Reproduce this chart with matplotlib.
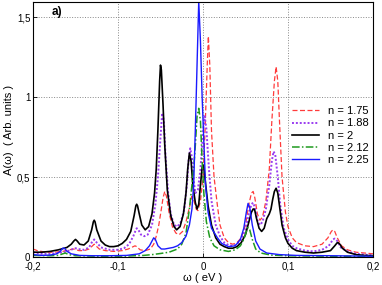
import matplotlib
matplotlib.use('Agg')
import matplotlib.pyplot as plt

# energies (eV) and spectral weight, one list pair per filling n
x175 = [-0.2, -0.195, -0.185, -0.175, -0.165, -0.158, -0.152, -0.146, -0.14, -0.134, -0.13, -0.128,
        -0.126, -0.122, -0.115, -0.105, -0.095, -0.088, -0.082, -0.08, -0.078, -0.074, -0.068, -0.062,
        -0.058, -0.055, -0.052, -0.049, -0.047, -0.045, -0.043, -0.04, -0.036, -0.032, -0.028, -0.024,
        -0.02, -0.016, -0.013, -0.011, -0.008, -0.006, -0.003, 0.0, 0.0024, 0.005, 0.0063, 0.008, 0.01,
        0.013, 0.017, 0.02, 0.025, 0.03, 0.035, 0.04, 0.045, 0.05, 0.054, 0.057, 0.059, 0.061, 0.064,
        0.067, 0.07, 0.074, 0.078, 0.081, 0.084, 0.086, 0.088, 0.09, 0.093, 0.097, 0.1, 0.105, 0.11,
        0.12, 0.13, 0.14, 0.147, 0.151, 0.153, 0.155, 0.158, 0.163, 0.17, 0.18, 0.2]
y175 = [0.05, 0.04, 0.03, 0.03, 0.035, 0.045, 0.05, 0.04, 0.04, 0.05, 0.07, 0.08,
        0.07, 0.05, 0.04, 0.035, 0.04, 0.05, 0.065, 0.07, 0.065, 0.045, 0.04, 0.05,
        0.08, 0.13, 0.2, 0.3, 0.37, 0.41, 0.38, 0.28, 0.19, 0.15, 0.14, 0.16,
        0.22, 0.31, 0.38, 0.36, 0.3, 0.29, 0.35, 0.5, 0.79, 1.2, 1.38, 1.2, 0.79,
        0.5, 0.32, 0.2, 0.12, 0.09, 0.08, 0.09, 0.12, 0.2, 0.33, 0.4, 0.41, 0.37, 0.27,
        0.23, 0.25, 0.35, 0.55, 0.85, 1.1, 1.19, 1.1, 0.85, 0.5, 0.28, 0.19, 0.12, 0.09,
        0.07, 0.065, 0.08, 0.12, 0.16, 0.17, 0.16, 0.12, 0.07, 0.045, 0.03, 0.02]

x188 = [-0.2, -0.19, -0.18, -0.17, -0.16, -0.153, -0.15, -0.147, -0.14, -0.134, -0.131, -0.128,
        -0.125, -0.12, -0.11, -0.1, -0.093, -0.087, -0.082, -0.079, -0.078, -0.076, -0.073, -0.069,
        -0.065, -0.06, -0.056, -0.053, -0.05, -0.048, -0.046, -0.044, -0.041, -0.038, -0.034, -0.03,
        -0.026, -0.022, -0.019, -0.017, -0.015, -0.013, -0.011, -0.009, -0.006, -0.003, 0.0, 0.002,
        0.004, 0.007, 0.01, 0.015, 0.02, 0.025, 0.03, 0.035, 0.04, 0.045, 0.05, 0.054, 0.057, 0.059,
        0.061, 0.064, 0.067, 0.07, 0.074, 0.078, 0.081, 0.083, 0.085, 0.088, 0.091, 0.095, 0.1, 0.105,
        0.11, 0.12, 0.13, 0.14, 0.148, 0.153, 0.155, 0.158, 0.162, 0.17, 0.18, 0.2]
y188 = [0.03, 0.02, 0.02, 0.025, 0.035, 0.05, 0.055, 0.05, 0.045, 0.06, 0.09, 0.11,
        0.09, 0.06, 0.045, 0.045, 0.055, 0.08, 0.13, 0.17, 0.18, 0.17, 0.14, 0.13,
        0.14, 0.2, 0.33, 0.5, 0.75, 0.9, 0.85, 0.62, 0.4, 0.27, 0.2, 0.19,
        0.22, 0.3, 0.45, 0.6, 0.68, 0.62, 0.48, 0.4, 0.42, 0.55, 0.78, 0.88,
        0.8, 0.55, 0.35, 0.2, 0.13, 0.09, 0.075, 0.07, 0.08, 0.11, 0.17, 0.27, 0.33, 0.34,
        0.31, 0.23, 0.2, 0.22, 0.3, 0.45, 0.6, 0.66, 0.64, 0.5, 0.32, 0.18, 0.11, 0.07,
        0.055, 0.04, 0.035, 0.045, 0.07, 0.11, 0.115, 0.1, 0.06, 0.035, 0.02, 0.01]

x200 = [-0.2, -0.19, -0.18, -0.17, -0.16, -0.155, -0.152, -0.15, -0.148, -0.145, -0.14, -0.135,
        -0.131, -0.129, -0.128, -0.127, -0.125, -0.12, -0.115, -0.11, -0.105, -0.1, -0.095, -0.09,
        -0.085, -0.081, -0.079, -0.078, -0.077, -0.075, -0.072, -0.068, -0.064, -0.06, -0.057, -0.055,
        -0.053, -0.051, -0.05, -0.049, -0.047, -0.045, -0.042, -0.038, -0.034, -0.031, -0.027, -0.023,
        -0.02, -0.018, -0.016, -0.014, -0.012, -0.009, -0.007, -0.005, -0.003, -0.001, 0.0, 0.001,
        0.003, 0.006, 0.01, 0.015, 0.02, 0.025, 0.03, 0.035, 0.04, 0.045, 0.05, 0.054, 0.057, 0.059,
        0.06, 0.061, 0.063, 0.066, 0.069, 0.072, 0.075, 0.078, 0.08, 0.082, 0.084, 0.086, 0.088, 0.09,
        0.093, 0.097, 0.1, 0.105, 0.11, 0.12, 0.13, 0.14, 0.15, 0.155, 0.158, 0.159, 0.161, 0.164,
        0.17, 0.18, 0.19, 0.2]
y200 = [0.03, 0.03, 0.035, 0.045, 0.06, 0.08, 0.1, 0.11, 0.1, 0.08, 0.075, 0.1,
        0.17, 0.22, 0.23, 0.22, 0.17, 0.1, 0.075, 0.065, 0.065, 0.07, 0.085, 0.11,
        0.16, 0.26, 0.32, 0.33, 0.32, 0.27, 0.2, 0.17, 0.19, 0.27, 0.4, 0.55,
        0.8, 1.1, 1.2, 1.17, 0.95, 0.7, 0.42, 0.26, 0.19, 0.17, 0.19, 0.27,
        0.4, 0.55, 0.65, 0.6, 0.45, 0.34, 0.3, 0.33, 0.45, 0.56, 0.575, 0.56,
        0.46, 0.32, 0.2, 0.12, 0.08, 0.065, 0.055, 0.055, 0.065, 0.09, 0.14, 0.22, 0.28, 0.3,
        0.3, 0.29, 0.24, 0.18, 0.16, 0.18, 0.24, 0.27, 0.3, 0.36, 0.41, 0.43, 0.4, 0.32,
        0.2, 0.12, 0.085, 0.055, 0.04, 0.03, 0.025, 0.03, 0.04, 0.07, 0.09, 0.09, 0.08, 0.055,
        0.03, 0.015, 0.01, 0.008]

x212 = [-0.2, -0.18, -0.17, -0.165, -0.162, -0.158, -0.15, -0.12, -0.09, -0.07, -0.06, -0.05,
        -0.04, -0.03, -0.025, -0.02, -0.016, -0.013, -0.011, -0.009, -0.007, -0.005, -0.003, -0.001,
        0.001, 0.004, 0.008, 0.013, 0.02, 0.03, 0.038, 0.044, 0.048, 0.051, 0.053, 0.055, 0.058,
        0.062, 0.068, 0.08, 0.1, 0.15, 0.2]
y212 = [0.01, 0.008, 0.01, 0.02, 0.025, 0.015, 0.008, 0.005, 0.006, 0.01, 0.015, 0.022,
        0.03, 0.05, 0.08, 0.15, 0.3, 0.45, 0.55, 0.7, 0.88, 0.93, 0.85, 0.6,
        0.4, 0.22, 0.12, 0.07, 0.045, 0.035, 0.045, 0.07, 0.11, 0.16, 0.185, 0.17, 0.11,
        0.05, 0.025, 0.012, 0.008, 0.005, 0.004]

x225 = [-0.2, -0.19, -0.18, -0.172, -0.168, -0.165, -0.163, -0.16, -0.155, -0.145, -0.13, -0.11,
        -0.09, -0.075, -0.068, -0.063, -0.06, -0.058, -0.056, -0.053, -0.049, -0.045, -0.04, -0.035,
        -0.03, -0.025, -0.02, -0.016, -0.013, -0.011, -0.009, -0.007, -0.005, -0.003, -0.001, 0.0005,
        0.003, 0.006, 0.01, 0.017, 0.022, 0.03, 0.038, 0.044, 0.048, 0.051, 0.053, 0.055, 0.058,
        0.062, 0.067, 0.075, 0.09, 0.11, 0.15, 0.2]
y225 = [0.015, 0.01, 0.012, 0.02, 0.035, 0.055, 0.055, 0.035, 0.02, 0.01, 0.008, 0.008,
        0.01, 0.02, 0.04, 0.07, 0.1, 0.12, 0.11, 0.07, 0.05, 0.05, 0.055, 0.06,
        0.07, 0.09, 0.13, 0.2, 0.3, 0.45, 0.8, 1.2, 1.6, 1.35, 1.0, 0.79,
        0.45, 0.28, 0.18, 0.12, 0.085, 0.065, 0.07, 0.11, 0.18, 0.28, 0.335, 0.31, 0.2,
        0.1, 0.05, 0.025, 0.015, 0.01, 0.008, 0.005]

xticks = [-0.2, -0.1, 0.0, 0.1, 0.2]
xtick_labels = ['-0,2', '-0,1', '0', '0,1', '0,2']
yticks = [0, 0.5, 1, 1.5]
ytick_labels = ['0', '0,5', '1', '1,5']

plt.rcParams['font.family'] = ['Liberation Sans', 'DejaVu Sans']

fig = plt.figure(figsize=(3.82, 2.85), dpi=100)
ax = fig.add_axes([0.0864, 0.0982, 0.89, 0.895])

ax.plot(x175, y175, color='#ff3b3b', ls=(0, (4, 2)), lw=0.9, label='n = 1.75')
ax.plot(x188, y188, color='#9a3cf0', ls=(0, (1, 1)), lw=1.4, label='n = 1.88')
ax.plot(x200, y200, color='black', ls='-', lw=1.2, label='n = 2')
ax.plot(x212, y212, color='#1f9a1f', ls=(0, (5, 1.5, 1, 1.5)), lw=1.1, label='n = 2.12')
ax.plot(x225, y225, color='#1a1aff', ls='-', lw=1.0, label='n = 2.25')

ax.set_xlim(-0.2, 0.2)
ax.set_ylim(0, 1.595)
ax.set_xticks(xticks)
ax.set_xticklabels(xtick_labels)
ax.set_yticks(yticks)
ax.set_yticklabels(ytick_labels)
ax.tick_params(direction='in', length=3, width=0.6, labelsize=7)
ax.tick_params(axis='x', pad=3.5)
ax.tick_params(axis='y', pad=2)
ax.grid(True, color='#888888', ls=':', lw=0.7)
for s in ax.spines.values():
    s.set_linewidth(0.8)

ax.set_xlabel('ω ( eV )', fontsize=8, labelpad=1)
ax.set_ylabel('A(ω)  ( Arb. units )', fontsize=8, labelpad=2)
ax.text(0.055, 0.985, 'a)', transform=ax.transAxes, fontsize=8.5, fontweight='bold',
        va='top', ha='left')

ax.legend(loc='lower right', bbox_to_anchor=(1.01, 0.33), frameon=False, fontsize=8,
          handlelength=2.4, handletextpad=0.8, labelspacing=0.2, borderpad=0.2)

plt.savefig('out.png', dpi=100)
